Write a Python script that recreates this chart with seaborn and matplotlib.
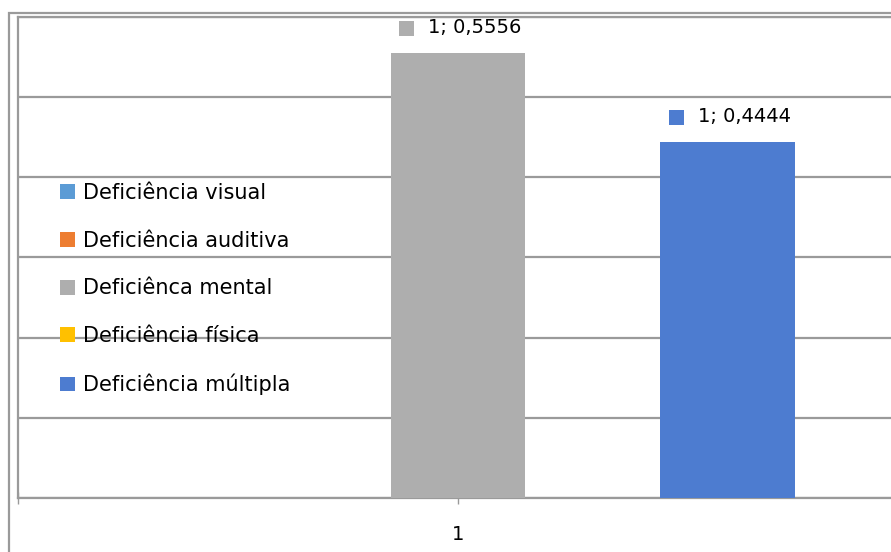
import matplotlib
matplotlib.use("Agg")
import matplotlib.pyplot as plt
import matplotlib.transforms as mtransforms
from matplotlib.patches import Patch, Rectangle
from matplotlib.ticker import FixedLocator, MultipleLocator
import seaborn as sns
import pandas as pd

# Share of students by type of disability (single group "1")
categories = ["1"]
series = ["Deficiência visual", "Deficiência auditiva", "Deficiênca mental",
          "Deficiência física", "Deficiência múltipla"]
values = [0.0, 0.0, 0.5556, 0.0, 0.4444]
colors = ["#5B9BD5", "#ED7D31", "#AEAEAE", "#FFC000", "#4D7CD0"]

df = pd.DataFrame({
    "categoria": categories * len(series),
    "serie": series,
    "valor": values,
})

sns.set_theme(style="white")
plt.rcParams["font.family"] = ["DejaVu Sans"]
plt.rcParams["text.color"] = "#000000"

DPI = 100
W, H = 891, 552
fig = plt.figure(figsize=(W / DPI, H / DPI), dpi=DPI)

# plot area (runs past the right edge of the canvas)
left_px, top_px, bottom_px, width_px = 18, 17, 498, 880
ax = fig.add_axes([left_px / W, (H - bottom_px) / H, width_px / W,
                   (bottom_px - top_px) / H])

sns.barplot(data=df, x="categoria", y="valor", hue="serie",
            hue_order=series, palette=colors, width=0.767,
            dodge=True, linewidth=0, saturation=1, legend=False, ax=ax,
            zorder=3)

ax.set_xlim(-0.5, 0.5)
ax.set_ylim(0, 0.6)
ax.set_xlabel("")
ax.set_ylabel("")

grid_col = "#9A9A9A"
ax.yaxis.set_major_locator(MultipleLocator(0.1))
ax.grid(axis="y", color=grid_col, linewidth=1.6, zorder=0)
ax.grid(axis="x", visible=False)
ax.set_yticklabels([])
ax.tick_params(axis="y", length=0)

for side in ["left", "top", "bottom"]:
    ax.spines[side].set_visible(True)
    ax.spines[side].set_color(grid_col)
    ax.spines[side].set_linewidth(1.6)
ax.spines["right"].set_visible(False)

# category tick at the centre, boundary ticks at the edges
ax.xaxis.set_minor_locator(FixedLocator([-0.5, 0.5]))
ax.tick_params(axis="x", which="both", direction="inout", length=9,
               width=1, color=grid_col, bottom=True)
ax.tick_params(axis="x", which="major", labelsize=14, pad=15,
               labelcolor="#000000")

# data labels with a colored key
for cont, name, col, val in zip(ax.containers, series, colors, values):
    if val <= 0:
        continue
    bar = cont.patches[0]
    cx = bar.get_x() + bar.get_width() / 2
    top = bar.get_height()
    key_tr = ax.transData + mtransforms.ScaledTranslation(
        -52 / DPI, 25 / DPI, fig.dpi_scale_trans)
    ax.plot([cx], [top], marker="s", markersize=10.8, color=col,
            markeredgewidth=0, transform=key_tr, clip_on=False, zorder=5)
    label = f"{categories[0]}; {val:.4f}".replace(".", ",")
    ax.annotate(label, xy=(cx, top), xytext=(-30 * 0.72, 25 * 0.72),
                textcoords="offset points", ha="left", va="center",
                fontsize=14, color="#000000", annotation_clip=False,
                zorder=5)

# legend on the left, over the plot area
handles = [Patch(facecolor=c, edgecolor="none") for c in colors]
leg = fig.legend(handles, series, loc="upper left",
                 bbox_to_anchor=(60 / W, (H - 183) / H),
                 bbox_transform=fig.transFigure, frameon=False, fontsize=15,
                 handlelength=0.72, handleheight=0.72, handletextpad=0.38,
                 labelspacing=1.33, borderpad=0, borderaxespad=0,
                 labelcolor="#000000")

# outer chart border
fig.patches.append(Rectangle((9 / W, -0.1), 1.2, (H - 12.5) / H + 0.1,
                             transform=fig.transFigure, fill=False,
                             edgecolor=grid_col, linewidth=1.6))

fig.savefig("out.png", dpi=DPI)
